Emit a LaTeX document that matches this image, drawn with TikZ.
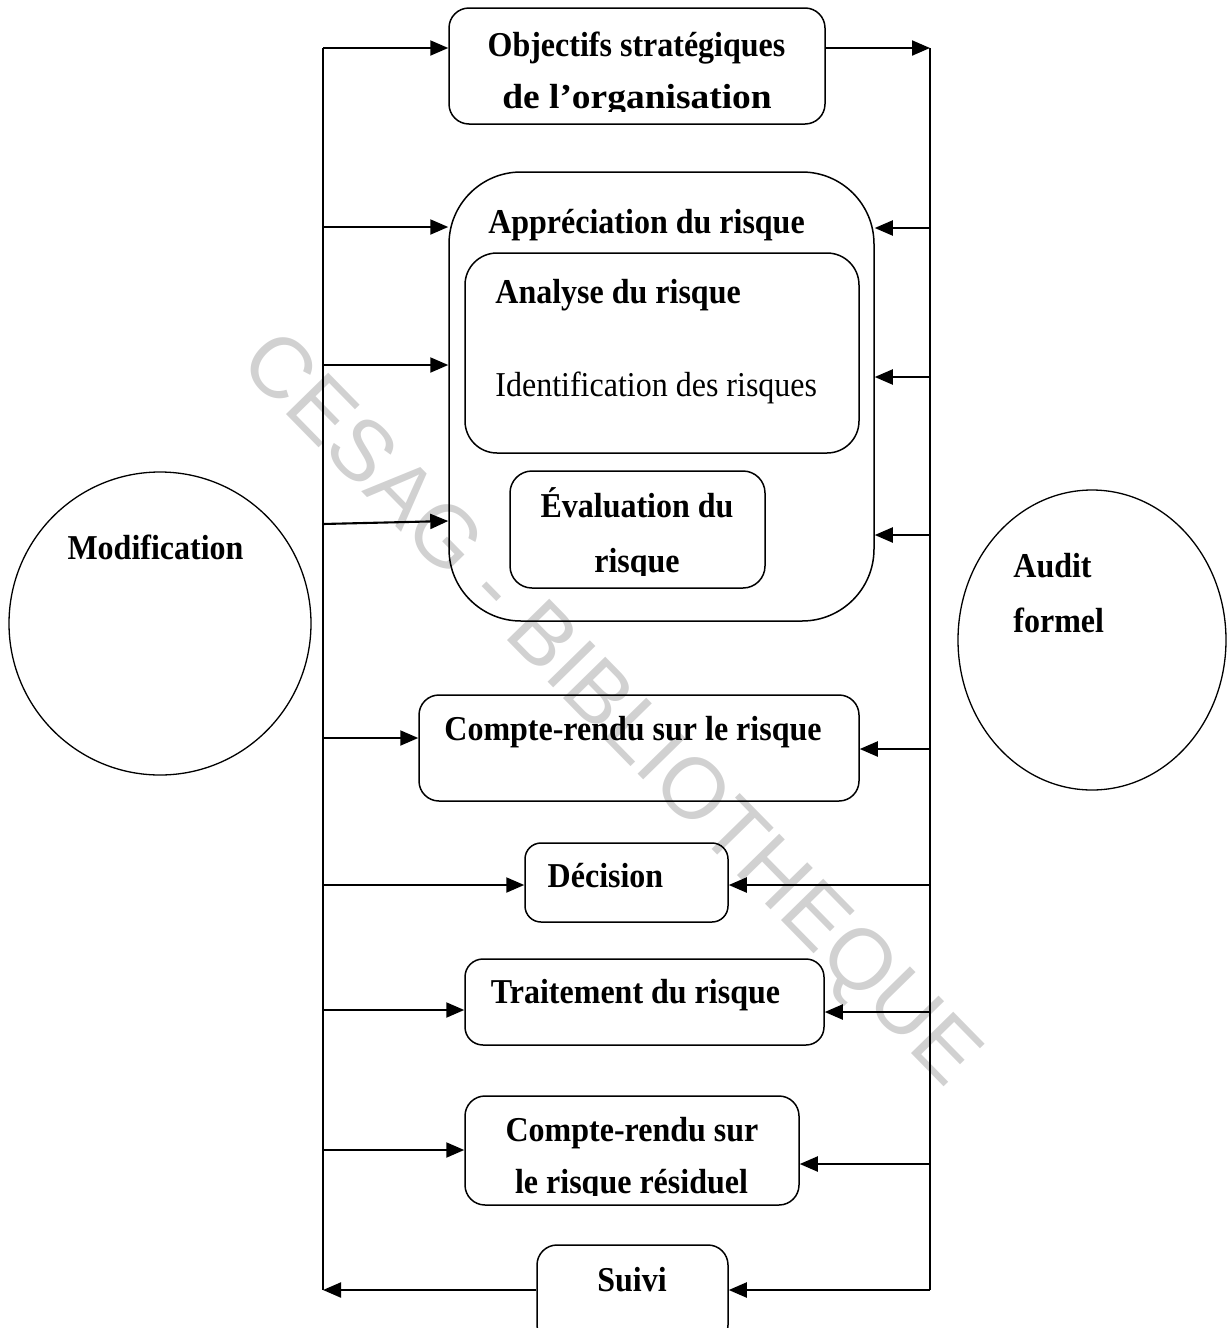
\documentclass[tikz,border=0pt]{standalone}
\usepackage{fontspec}
\setmainfont{Liberation Serif}
\setsansfont{Liberation Sans}
\usepackage{graphicx}
\usetikzlibrary{arrows.meta,shapes.geometric}

% slightly tall lettering
\newcommand\vst[1]{\scalebox{1}[1.09]{#1}}

\begin{document}
\begin{tikzpicture}[x=0.5pt,y=-0.5pt,
  pbox/.style={draw, line width=0.75pt, inner sep=0pt, rounded corners=#1},
  pbox/.default=9pt,
  oval/.style={draw, ellipse, line width=0.65pt, inner sep=0pt},
  lbl/.style={font=\bfseries\fontsize{16pt}{19pt}\selectfont, inner sep=0pt, anchor=base},
  plain/.style={font=\fontsize{16pt}{19pt}\selectfont, inner sep=0pt, anchor=base},
  rail/.style={line width=1.05pt},
  arr/.style={line width=1.05pt, -{Triangle[length=9pt,width=7.5pt]}},
  stamptext/.style={font=\sffamily\fontsize{43pt}{43pt}\selectfont, text=black!18, inner sep=0pt}
]
\useasboundingbox (0,0) rectangle (1227,1328);
\clip (0,0) rectangle (1227,1328);

% library stamp across the page
\node[stamptext, rotate=-45.6] (stamp) at (608,712) {CESAG - BIBLIOTHEQUE};

% process boxes
\node[pbox=10pt, minimum width=188pt, minimum height=58pt] (obj) at (637,66) {};
\node[pbox=36pt, minimum width=212.5pt, minimum height=224.5pt] (appr) at (661.5,396.5) {};
\node[pbox=16pt, minimum width=197pt, minimum height=100pt] (ana) at (662,353) {};
\node[pbox=11pt, minimum width=127.5pt, minimum height=58.5pt] (eval) at (637.5,529.5) {};
\node[pbox=10pt, minimum width=220pt, minimum height=53pt] (cr) at (639,748) {};
\node[pbox=8pt, minimum width=101.5pt, minimum height=39.5pt] (dec) at (626.5,882.5) {};
\node[pbox=9pt, minimum width=179.5pt, minimum height=43pt] (trt) at (644.5,1002) {};
\node[pbox=10pt, minimum width=167pt, minimum height=54.5pt] (res) at (632,1150.5) {};
\node[pbox=10pt, minimum width=95.5pt, minimum height=50pt] (sui) at (632.5,1295) {};

% side ellipses
\node[oval, minimum width=151pt, minimum height=151.5pt] (modif) at (160,623.5) {};
\node[oval, minimum width=134pt, minimum height=150pt] (audit) at (1092,640) {};

% labels
\node[lbl] (tobja) at (636.5,56) {\vst{Objectifs stratégiques}};
\begin{scope}
  \clip (449,60) rectangle (825,111);
  \node[lbl] (tobjb) at (637,108) {\scalebox{1.17}[1.09]{de l’organisation}};
\end{scope}
\node[lbl] (tappr) at (646.5,233) {\vst{Appréciation du risque}};
\node[lbl, anchor=base west] (tana) at (495,303) {\vst{Analyse du risque}};
\node[plain, anchor=base west] (tid) at (495,396) {\vst{Identification des risques}};
\node[lbl] (tevala) at (637,517) {\vst{Évaluation du}};
\begin{scope}
  \clip (510,530) rectangle (765,575);
  \node[lbl] (tevalb) at (637,572) {\vst{risque}};
\end{scope}
\node[lbl] (tcr) at (633,740) {\vst{Compte-rendu sur le risque}};
\node[lbl] (tdec) at (605.5,887) {\vst{Décision}};
\node[lbl] (ttrt) at (635.5,1003) {\vst{Traitement du risque}};
\node[lbl] (tresa) at (632,1141) {\vst{Compte-rendu sur}};
\begin{scope}
  \clip (465,1150) rectangle (799,1195);
  \node[lbl] (tresb) at (631.5,1193) {\vst{le risque résiduel}};
\end{scope}
\node[lbl] (tsui) at (632,1291) {\vst{Suivi}};
\node[lbl] (tmod) at (155.5,559) {\vst{Modification}};
\node[lbl, anchor=base west] (tauda) at (1013,577) {\vst{Audit}};
\node[lbl, anchor=base west] (taudb) at (1013,632) {\vst{formel}};

% rails
\coordinate (Ltop) at (323,48);
\coordinate (Lbot) at (323,1290);
\coordinate (Rtop) at (930,48);
\coordinate (Rbot) at (930,1290);
\draw[rail] (Ltop) -- (Lbot);
\draw[rail] (Rtop) -- (Rbot);

% branches from the left rail
\coordinate (La) at (323,227);
\coordinate (Lb) at (323,365);
\coordinate (Lc) at (323,524);
\coordinate (Ld) at (323,738);
\coordinate (Le) at (323,885);
\coordinate (Lf) at (323,1010);
\coordinate (Lg) at (323,1150);
\draw[arr] (Ltop) -- (Ltop -| obj.west);
\draw[arr] (La) -- (La -| appr.west);
\draw[arr] (Lb) -- (Lb -| appr.west);
\draw[arr] (Lc) -- ([yshift=1.5pt]Lc -| appr.west);
\draw[arr] (Ld) -- (Ld -| cr.west);
\draw[arr] (Le) -- (Le -| dec.west);
\draw[arr] (Lf) -- (Lf -| trt.west);
\draw[arr] (Lg) -- (Lg -| res.west);
\draw[arr] (Lbot -| sui.west) -- (Lbot);

% branches from the right rail
\coordinate (Ra) at (930,228);
\coordinate (Rb) at (930,377);
\coordinate (Rc) at (930,535);
\coordinate (Rd) at (930,749);
\coordinate (Re) at (930,885);
\coordinate (Rf) at (930,1012);
\coordinate (Rg) at (930,1164);
\draw[arr] (Rtop -| obj.east) -- (Rtop);
\draw[arr] (Ra) -- (Ra -| appr.east);
\draw[arr] (Rb) -- (Rb -| appr.east);
\draw[arr] (Rc) -- (Rc -| appr.east);
\draw[arr] (Rd) -- (Rd -| cr.east);
\draw[arr] (Re) -- (Re -| dec.east);
\draw[arr] (Rf) -- (Rf -| trt.east);
\draw[arr] (Rg) -- (Rg -| res.east);
\draw[arr] (Rbot) -- (Rbot -| sui.east);
\end{tikzpicture}
\end{document}
